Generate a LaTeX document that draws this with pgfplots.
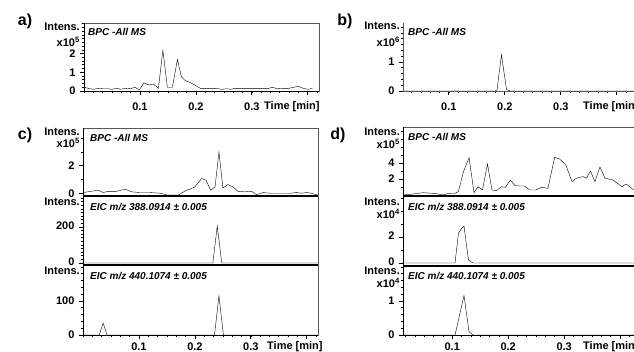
\documentclass[border=0pt]{standalone}
\usepackage{pgfplots}
\pgfplotsset{compat=1.18}
\usepackage{fontspec}
\setmainfont{Liberation Sans}
\newcommand{\tf}{\fontsize{11}{12}\selectfont\bfseries}
\newcommand{\lf}{\fontsize{10}{11}\selectfont\bfseries\itshape}
\newcommand{\pf}{\fontsize{16}{18}\selectfont\bfseries}
\pgfplotsset{
 chrom/.style={
   scale only axis, anchor=south west, width=235pt,
   axis line style={draw=gray!70!black, line width=0.7pt},
   tick align=outside, major tick length=4pt, minor tick length=2.5pt,
   major tick style={black, line width=0.8pt},
   minor tick style={black, line width=0.7pt},
   xtick pos=bottom, ytick pos=left,
   ticklabel style={font=\tf},
   yticklabel style={xshift=-1pt},
   /pgf/number format/assume math mode=true,
   xtick={0.1,0.2,0.3,0.4}, xticklabels={0.1,0.2,0.3,{}},
   minor xtick={0,0.0166667,...,0.44},
   cycle list={{black, line width=1pt, mark=none}},
 },
 noxt/.style={xtick=\empty, minor xtick={}},
 topx/.style={xticklabel style={yshift=-4pt}},
 lowx/.style={xticklabel style={yshift=-0.5pt}},
}
\begin{document}
\begin{tikzpicture}
\useasboundingbox (0,0) rectangle (634pt,352pt);
\clip (0,0) rectangle (634pt,352pt);
% ---------- a ----------
\begin{axis}[chrom, topx, at={(84pt,261pt)}, height=68pt, xmin=0, xmax=0.42, ymin=0, ymax=3.64,
  ytick={0,1,2}, minor ytick={0.2,0.4,...,3.6}]
\addplot coordinates {(0.000,0.20)(0.008,0.14)(0.017,0.09)(0.026,0.14)(0.034,0.12)(0.043,0.12)(0.050,0.09)(0.058,0.14)(0.066,0.10)(0.075,0.14)(0.083,0.12)(0.091,0.20)(0.099,0.05)(0.107,0.44)(0.115,0.32)(0.124,0.37)(0.133,0.15)(0.141,2.18)(0.149,0.20)(0.158,0.20)(0.167,1.69)(0.174,0.77)(0.181,0.55)(0.189,0.47)(0.198,0.32)(0.208,0.14)(0.217,0.14)(0.226,0.14)(0.235,0.14)(0.246,0.09)(0.255,0.12)(0.262,0.09)(0.270,0.14)(0.280,0.14)(0.290,0.14)(0.300,0.14)(0.310,0.14)(0.320,0.14)(0.330,0.14)(0.337,0.20)(0.345,0.12)(0.355,0.14)(0.365,0.14)(0.375,0.20)(0.383,0.25)(0.392,0.14)(0.400,0.09)(0.408,0.14)};
\end{axis}
% ---------- b ----------
\begin{axis}[chrom, topx, axis lines*=left, at={(403pt,261pt)}, height=68pt, xmin=0.018, xmax=0.438, ymin=0, ymax=2.34,
  ytick={0,1}, minor ytick={0.2,0.4,...,2.2}]
\addplot coordinates {(0.018,0)(0.182,0)(0.186,0.03)(0.194,1.25)(0.203,0.05)(0.210,0)(0.438,0)};
\end{axis}
% ---------- c ----------
\begin{axis}[chrom, noxt, at={(83pt,156pt)}, height=68pt, xmin=0, xmax=0.42, ymin=-0.2, ymax=4.73,
  ytick={0,2}, minor ytick={1,3,4}]
\addplot coordinates {(0.000,0.05)(0.027,0.22)(0.036,0.05)(0.045,0.14)(0.060,0.14)(0.075,0.29)(0.087,0.10)(0.102,0.05)(0.120,0.05)(0.138,0.00)(0.152,-0.14)(0.170,-0.14)(0.185,0.22)(0.191,0.29)(0.200,0.46)(0.212,1.07)(0.220,0.94)(0.228,0.22)(0.236,0.46)(0.243,2.99)(0.250,0.38)(0.259,0.63)(0.268,0.46)(0.277,0.14)(0.289,0.10)(0.301,0.14)(0.310,-0.10)(0.322,0.05)(0.334,0.00)(0.352,0.00)(0.370,0.00)(0.382,0.05)(0.390,0.00)(0.400,0.05)(0.408,0.00)(0.420,-0.14)};
\end{axis}
\begin{axis}[chrom, noxt, at={(83pt,87pt)}, height=69pt, xmin=0, xmax=0.42, ymin=-11, ymax=372,
  ytick={0,200}, minor ytick={20,40,...,360}, yticklabel style={yshift=1pt}]
\addplot coordinates {(0,0)(0.232,0)(0.240,205)(0.248,0)(0.42,0)};
\end{axis}
\begin{axis}[chrom, lowx, at={(83pt,17pt)}, height=70pt, xmin=0, xmax=0.42, ymin=0, ymax=206,
  ytick={0,100}, minor ytick={20,40,...,200}]
\addplot coordinates {(0,0)(0.029,0)(0.036,35)(0.043,0)(0.235,0)(0.243,115)(0.251,0)(0.42,0)};
\end{axis}
% ---------- d ----------
\begin{axis}[chrom, noxt, at={(403pt,156pt)}, height=69pt, xmin=0.012, xmax=0.432, ymin=-0.125, ymax=8.5,
  ytick={2,4}, minor ytick={1,3,5,6,7,8}]
\addplot coordinates {(0.0125,0)(0.030,0.125)(0.048,0.29)(0.066,0.20)(0.075,0.12)(0.084,0)(0.093,0.20)(0.102,0.12)(0.111,0.42)(0.120,2.9)(0.130,4.67)(0.139,0.29)(0.146,1.04)(0.154,0.63)(0.163,3.87)(0.171,0.63)(0.179,0.54)(0.188,1.04)(0.195,0.96)(0.204,1.87)(0.212,1.17)(0.221,1.125)(0.229,1.125)(0.239,0.63)(0.249,0.63)(0.260,0.96)(0.271,0.83)(0.283,4.7)(0.292,4.5)(0.303,3.75)(0.314,1.67)(0.322,2.1)(0.334,2.3)(0.340,2.1)(0.347,3.0)(0.355,1.67)(0.364,3.5)(0.373,2.1)(0.387,1.88)(0.403,1.04)(0.411,1.37)(0.423,0.7)(0.432,0.9)};
\end{axis}
\begin{axis}[chrom, noxt, at={(403pt,86pt)}, height=70pt, xmin=0.012, xmax=0.432, ymin=-0.23, ymax=5.15,
  ytick={0,2}, minor ytick={1,3,4,5}, yticklabel style={yshift=1pt}]
\addplot coordinates {(0.012,0)(0.105,0)(0.111,2.28)(0.117,2.67)(0.121,2.85)(0.129,0.23)(0.137,0)(0.432,0)};
\end{axis}
\begin{axis}[chrom, lowx, at={(403pt,17pt)}, height=69pt, xmin=0.012, xmax=0.432, ymin=0, ymax=2.03,
  ytick={0,1}, minor ytick={0.2,0.4,...,2.0}]
\addplot coordinates {(0.012,0)(0.105,0)(0.121,1.16)(0.130,0.10)(0.137,0)(0.432,0)};
\end{axis}
% ---------- frame lines ----------
\draw[black, line width=0.9pt] (84pt,329pt) -- (84pt,261pt) -- (319pt,261pt);
\draw[black, line width=0.9pt] (83pt,224pt) -- (83pt,17pt) -- (318pt,17pt);
\draw[black, line width=0.9pt] (403pt,225pt) -- (403pt,17pt) -- (640pt,17pt);
\draw[black, line width=1.8pt] (83pt,156pt) -- (318pt,156pt);
\draw[black, line width=1.8pt] (83pt,87pt) -- (318pt,87pt);
\draw[black, line width=1.8pt] (403pt,156pt) -- (640pt,156pt);
\draw[black, line width=1.8pt] (403pt,86pt) -- (640pt,86pt);
% ---------- texts ----------
\node[font=\pf] at (25pt,331pt) {a)};
\node[font=\pf] at (345pt,331pt) {b)};
\node[font=\pf] at (25pt,217pt) {c)};
\node[font=\pf] at (338pt,217pt) {d)};
\begin{scope}[every node/.style={font=\tf, anchor=east, inner sep=0pt}]
\node at (80pt,325.5pt) {Intens.};
\node at (80pt,310.3pt) {x10\textsuperscript{5}};
\node at (400pt,326pt) {Intens.};
\node at (400pt,310.3pt) {x10\textsuperscript{6}};
\node at (80pt,220.3pt) {Intens.};
\node at (80pt,208.7pt) {x10\textsuperscript{5}};
\node at (80pt,150pt) {Intens.};
\node at (80pt,81pt) {Intens.};
\node at (400pt,220.3pt) {Intens.};
\node at (400pt,208pt) {x10\textsuperscript{5}};
\node at (400pt,150.3pt) {Intens.};
\node at (400pt,138pt) {x10\textsuperscript{4}};
\node at (400pt,81pt) {Intens.};
\node at (400pt,68.7pt) {x10\textsuperscript{4}};
\end{scope}
\begin{scope}[every node/.style={font=\tf, anchor=west, inner sep=0pt}]
\node at (264pt,245pt) {Time [min]};
\node at (583pt,245pt) {Time [min]};
\node at (267pt,5pt) {Time [min]};
\node at (583pt,5pt) {Time [min]};
\end{scope}
\begin{scope}[every node/.style={font=\lf, anchor=west, inner sep=0pt}]
\node at (88pt,320.3pt) {BPC -All MS};
\node at (408pt,320.3pt) {BPC -All MS};
\node at (90pt,214pt) {BPC -All MS};
\node at (90pt,145pt) {EIC m/z 388.0914 ± 0.005};
\node at (90pt,76pt) {EIC m/z 440.1074 ± 0.005};
\node at (408pt,215.3pt) {BPC -All MS};
\node at (408pt,145pt) {EIC m/z 388.0914 ± 0.005};
\node at (408pt,76pt) {EIC m/z 440.1074 ± 0.005};
\end{scope}
\end{tikzpicture}
\end{document}
